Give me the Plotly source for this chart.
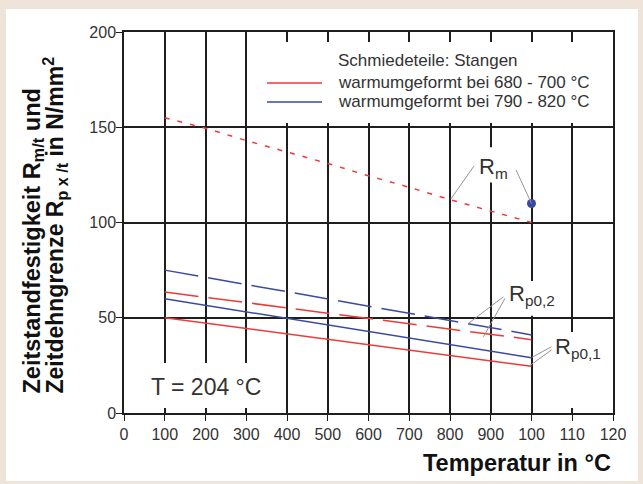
import plotly.graph_objects as go

# ---- data ----
temp_rm = [100, 200, 300, 400, 500, 600, 700, 800, 900, 1000]
rm_red = [155, 149.5, 143, 137, 131, 124.5, 118.5, 112, 106, 100]

temp_rp = [100, 1000]
rp02_red = [63.5, 38.5]
rp02_blue = [75, 41]
rp01_red = [50, 24.5]
rp01_blue = [60, 29]

rm_blue_temp = [1000]
rm_blue = [110]

x_tickvals = [0, 100, 200, 300, 400, 500, 600, 700, 800, 900, 1000, 1100, 1200]
x_ticktext = ["0", "100", "200", "300", "400", "500", "600", "700", "800", "900", "100", "110", "120"]
y_tickvals = [0, 50, 100, 150, 200]

legend_title = "Schmiedeteile: Stangen"
legend_names = ["warmumgeformt bei 680 - 700 °C", "warmumgeformt bei 790 - 820 °C"]

RED = "#ee3a3a"
BLUE = "#3a4a9e"
GRID = "#1e1e1e"
TXT = "#333333"
FONT = "Liberation Sans, Arial, sans-serif"

# plot area in pixels (for paper-coordinate placement of decorations)
L, R, T, B = 124, 613, 32, 413
def px(xp):
    return (xp - L) / (R - L)
def py(yp):
    return (B - yp) / (B - T)

fig = go.Figure()

fig.add_trace(go.Scatter(x=temp_rm, y=rm_red, mode="lines",
                         line=dict(color=RED, width=1.5, dash="5px,8px"), showlegend=False))
fig.add_trace(go.Scatter(x=temp_rp, y=rp02_blue, mode="lines",
                         line=dict(color=BLUE, width=1.5, dash="34px,10px"), showlegend=False))
fig.add_trace(go.Scatter(x=temp_rp, y=rp02_red, mode="lines",
                         line=dict(color=RED, width=1.5, dash="34px,10px"), showlegend=False))
fig.add_trace(go.Scatter(x=temp_rp, y=rp01_red, mode="lines", name=legend_names[0],
                         line=dict(color=RED, width=1.5), showlegend=False))
fig.add_trace(go.Scatter(x=temp_rp, y=rp01_blue, mode="lines", name=legend_names[1],
                         line=dict(color=BLUE, width=1.5), showlegend=False))
fig.add_trace(go.Scatter(x=rm_blue_temp, y=rm_blue, mode="markers",
                         marker=dict(color=BLUE, size=9), showlegend=False))

# white cover boxes hiding grid behind legend and labels
covers = [
    (309, 1195, 152.2, 194.8),  # legend area
    (20, 370, 2.6, 26.2),       # T label
    (865, 955, 121, 139.5),     # Rm label
    (945, 1075, 51, 69.3),      # Rp0,2 label
    (1040, 1170, 2.6, 42.5),    # Rp0,1 label
]
for x0, x1, y0, y1 in covers:
    fig.add_shape(type="rect", xref="x", yref="y", x0=x0, x1=x1, y0=y0, y1=y1,
                  fillcolor="white", line=dict(width=0), layer="between")

# legend (manual, inside the white box)
fig.add_annotation(x=px(336), y=py(60), xref="paper", yref="paper", text=legend_title,
                   showarrow=False, xanchor="left", yanchor="middle",
                   font=dict(family=FONT, size=17, color=TXT))
for name, color, yrow in [(legend_names[0], RED, 82), (legend_names[1], BLUE, 101)]:
    fig.add_annotation(x=px(336), y=py(yrow), xref="paper", yref="paper", text=name,
                       showarrow=False, xanchor="left", yanchor="middle",
                       font=dict(family=FONT, size=17, color=TXT))
    fig.add_shape(type="line", xref="paper", yref="paper", x0=px(267), x1=px(322),
                  y0=py(yrow + 1), y1=py(yrow + 1), line=dict(color=color, width=1.5), layer="above")

# leader lines
leaders = [
    (859, 129.7, 802, 112.3), (962, 127.6, 1000, 110),
    (931, 61, 845, 47), (935, 60.2, 882, 40),
    (1049, 34.8, 1001, 29.2), (1049, 33.1, 992, 24.3),
]
for x0, y0, x1, y1 in leaders:
    fig.add_shape(type="line", xref="x", yref="y", x0=x0, y0=y0, x1=x1, y1=y1,
                  line=dict(color="#959595", width=1), layer="above")

labels = [
    ("R<sub>m</sub>", 866, 128.5),
    ("R<sub>p0,2</sub>", 940, 62),
    ("R<sub>p0,1</sub>", 1053, 34),
]
for txt, x, y in labels:
    fig.add_annotation(x=x, y=y, xref="x", yref="y", text=txt, showarrow=False,
                       xanchor="left", yanchor="middle", font=dict(family=FONT, size=22, color=TXT))

fig.add_annotation(x=62, y=13.5, xref="x", yref="y", text="T = 204 °C", showarrow=False,
                   xanchor="left", yanchor="middle", font=dict(family=FONT, size=23, color=TXT))

# axis titles
fig.add_annotation(x=1.0, y=py(463), xref="paper", yref="paper", text="<b>Temperatur in °C</b>",
                   showarrow=False, xanchor="right", yanchor="middle",
                   font=dict(family=FONT, size=23.5, color="#111"))
fig.add_annotation(x=px(33), y=py(396), xref="paper", yref="paper",
                   text="<b>Zeitstandfestigkeit R<sub>m/t</sub> und</b>", textangle=-90,
                   showarrow=False, xanchor="center", yanchor="bottom",
                   font=dict(family=FONT, size=23.5, color="#111"))
fig.add_annotation(x=px(54), y=py(396), xref="paper", yref="paper",
                   text="<b>Zeitdehngrenze R<sub>p x /t</sub> in N/mm<sup>2</sup></b>", textangle=-90,
                   showarrow=False, xanchor="center", yanchor="bottom",
                   font=dict(family=FONT, size=23, color="#111"))

# page frame (beige border)
fig.add_shape(type="rect", xref="paper", yref="paper",
              x0=px(6), x1=px(638), y0=py(481), y1=py(9),
              fillcolor="white", line=dict(width=0), layer="below")

fig.update_layout(
    width=643, height=484,
    margin=dict(l=L, r=643 - R, t=T, b=484 - B),
    paper_bgcolor="#efe4da", plot_bgcolor="white",
    font=dict(family=FONT, size=16, color=TXT),
    showlegend=False,
    xaxis=dict(range=[0, 1200], tickvals=x_tickvals, ticktext=x_ticktext,
               showgrid=True, gridcolor=GRID, gridwidth=1.5, zeroline=False,
               showline=True, linecolor=GRID, linewidth=1.5, mirror=True,
               ticks="outside", ticklen=6, tickcolor=GRID, tickfont=dict(size=16, color=TXT)),
    yaxis=dict(range=[0, 200], tickvals=y_tickvals,
               showgrid=True, gridcolor=GRID, gridwidth=1.5, zeroline=False,
               showline=True, linecolor=GRID, linewidth=1.5, mirror=True,
               ticks="outside", ticklen=6, tickcolor=GRID, tickfont=dict(size=16, color=TXT),
               ticklabelstandoff=-3),
)

fig.write_html("out.html", config={"displayModeBar": False},
               post_script="document.body.style.margin='0';document.body.style.overflow='hidden';")
